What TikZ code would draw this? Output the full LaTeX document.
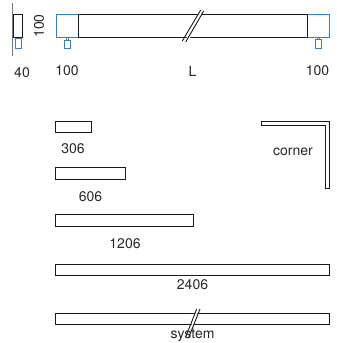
\documentclass[tikz,border=0pt]{standalone}
\usepackage{fontspec}
\setmainfont{TeX Gyre Heros}

\definecolor{partblue}{HTML}{2F83C4}
\definecolor{bargray}{HTML}{7A7A7A}

\tikzset{
  label/.style={font=\fontsize{14}{16}\selectfont, text=black!85, inner sep=0pt},
  bar/.style={draw=black!90, line width=1pt},
  part/.style={draw=partblue, line width=1pt},
  slash/.style={draw=black!90, line width=0.9pt}
}

\begin{document}
\begin{tikzpicture}[x=1pt, y=-1pt]

\useasboundingbox (0,0) rectangle (337,343);

\draw[bargray, line width=1.4pt] (12.7,3) -- (12.7,56);

\draw[bar] (13.5,14.5) rectangle (22.5,37.5);

\draw[part] (15.5,38.5) rectangle (21.5,48.5);

\draw[part] (56.5,14.5) rectangle (78.5,37.5);

\draw[part] (307.5,14.5) rectangle (329.5,37.5);

\draw[part] (64.5,40.5) rectangle (70.5,48.5);

\draw[part] (66.5,37.5) rectangle (68.5,40.5);

\draw[part] (315.5,39.5) rectangle (321.5,48.5);

\draw[part] (317.5,37.5) rectangle (319.5,39.5);

\draw[bar] (78.5,14.5) rectangle (307.5,37.5);

\fill[white] (185,41) -- (188,42) -- (203,11) -- (200,10) -- cycle;

\draw[slash] (182.3,41) -- (200.7,10);

\draw[slash] (185.7,42) -- (203.7,11);

\draw[bar] (55.5,121.5) rectangle (91.5,132.5);

\draw[bar] (55.5,167.5) rectangle (125.5,179.5);

\draw[bar] (55.5,214.5) rectangle (193.5,226.5);

\draw[bar] (55.5,264.5) rectangle (329.5,275.5);

\draw[bar] (55.5,313.5) rectangle (329.5,324.5);

\fill[white] (188,336) -- (190,336) -- (198.5,310) -- (196.5,310) -- cycle;

\draw[slash] (185.7,337) -- (196.7,309);

\draw[slash] (188.5,338) -- (200,309);

\draw[bar] (261.5,121.5) -- (329.5,121.5) -- (329.5,188.5) -- (325.5,188.5) -- (325.5,125.5) -- (261.5,125.5) -- cycle;

\node[label, rotate=90] (heightlabel) at (39,26) {100};

\node[label] (depthlabel) at (22,73) {40};

\node[label] (leftlabel) at (67,71) {100};

\node[label] (lengthlabel) at (192.5,71) {L};

\node[label] (rightlabel) at (317.5,71) {100};

\node[label] (shortlabel) at (73,149) {306};

\node[label] (midlabel) at (90.5,197) {606};

\node[label] (longlabel) at (125,244) {1206};

\node[label] (fulllabel) at (192.5,284.5) {2406};

\node[label] (systemlabel) at (192.5,335.5) {system};

\node[label] (cornerlabel) at (293,151.5) {corner};

\end{tikzpicture}
\end{document}
